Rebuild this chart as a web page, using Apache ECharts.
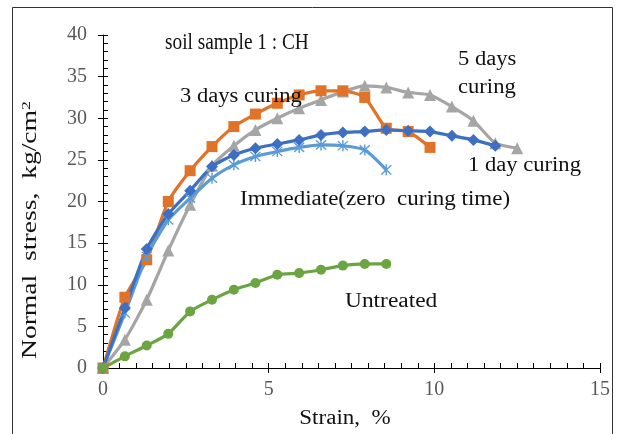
<!DOCTYPE html>
<html>
<head>
<meta charset="utf-8">
<script src="https://cdn.jsdelivr.net/npm/echarts@6/dist/echarts.min.js"></script>
<style>html,body{margin:0;padding:0;background:#fff}#c{width:618px;height:434px}</style>
</head>
<body>
<div id="c"></div>
<script>
// Strain values (%) shared by all series
const strain = [0, 0.66, 1.32, 1.97, 2.63, 3.29, 3.95, 4.6, 5.26, 5.92, 6.58, 7.24, 7.9, 8.55, 9.21, 9.87, 10.53, 11.18, 11.84, 12.5];
// Normal stress (kg/cm2)
const untreated = [0, 1.4, 2.7, 4.1, 6.8, 8.2, 9.4, 10.2, 11.2, 11.4, 11.8, 12.3, 12.5, 12.5];
const immediate = [0, 6.6, 13.4, 17.8, 20.4, 22.8, 24.4, 25.4, 26.0, 26.5, 26.8, 26.7, 26.2, 23.8];
const day1 = [0, 7.2, 14.3, 18.5, 21.3, 24.2, 25.6, 26.4, 26.9, 27.4, 28.0, 28.3, 28.4, 28.6, 28.5, 28.4, 27.9, 27.4, 26.7];
const day3 = [0, 8.5, 13.0, 20.0, 23.7, 26.6, 29.0, 30.5, 31.8, 32.8, 33.3, 33.3, 32.5, 28.8, 28.4, 26.5];
const day5 = [0, 3.4, 8.2, 14.1, 19.6, 24.3, 26.7, 28.6, 30.0, 31.2, 32.2, 33.2, 33.9, 33.7, 33.1, 32.8, 31.4, 29.7, 27.0, 26.4];
const xTicks = [0, 5, 10, 15];
const yTicks = [0, 5, 10, 15, 20, 25, 30, 35, 40];

const pairs = ys => ys.map((y, i) => [strain[i], y]);
const serif = 'Liberation Serif';
const asterisk = 'path://M4.4,0L5.6,0L5.6,10L4.4,10Z M0.4,1.2L1.2,0.4L9.6,8.8L8.8,9.6Z M8.8,0.4L9.6,1.2L1.2,9.6L0.4,8.8Z';

function mkSeries(name, ys, color, symbol, size) {
  return {
    name, type: 'line', data: pairs(ys), smooth: 0.2,
    symbol, symbolSize: size, showSymbol: true,
    lineStyle: { color, width: 3.2 },
    itemStyle: { color, borderWidth: 0 },
    xAxisIndex: 0, yAxisIndex: 0, animation: false
  };
}

const chart = echarts.init(document.getElementById('c'), null, { renderer: 'canvas' });
const axisCommon = {
  type: 'value',
  axisLine: { show: true, lineStyle: { color: '#000', width: 1 } },
  splitLine: { show: false }
};
const txt = (text, x, y, size, sx, align) => ({
  type: 'text', x, y, scaleX: sx, z: 100,
  style: { text, font: size + 'px "' + serif + '"', fill: '#111', textVerticalAlign: 'middle', textAlign: align || 'left' }
});

chart.setOption({
  animation: false,
  grid: { left: 103, right: 18, top: 35, bottom: 66 },
  xAxis: [
    Object.assign({}, axisCommon, {
      min: xTicks[0], max: xTicks[xTicks.length - 1], interval: 5, position: 'bottom',
      axisTick: { show: true, inside: true, length: 5, lineStyle: { color: '#000' } },
      minorTick: { show: true, splitNumber: 10, length: 5, lineStyle: { color: '#000' } },
      axisLabel: { color: '#595959', fontFamily: serif, fontSize: 20, margin: 12 }
    }),
    Object.assign({}, axisCommon, {
      min: xTicks[0], max: xTicks[xTicks.length - 1], interval: 5, position: 'bottom',
      axisLine: { show: false },
      axisTick: { show: true, inside: false, length: 5, lineStyle: { color: '#000' } },
      axisLabel: { show: false }
    })
  ],
  yAxis: [
    Object.assign({}, axisCommon, {
      min: yTicks[0], max: yTicks[yTicks.length - 1], interval: 5, position: 'left',
      axisTick: { show: true, inside: true, length: 5, lineStyle: { color: '#000' } },
      minorTick: { show: true, splitNumber: 5, length: 5, lineStyle: { color: '#000' } },
      axisLabel: { color: '#595959', fontFamily: serif, fontSize: 20, margin: 16 }
    }),
    Object.assign({}, axisCommon, {
      min: yTicks[0], max: yTicks[yTicks.length - 1], interval: 5, position: 'left',
      axisLine: { show: false },
      axisTick: { show: true, inside: false, length: 5, lineStyle: { color: '#000' } },
      axisLabel: { show: false }
    })
  ],
  series: [
    mkSeries('5 days curing', day5, '#A5A5A5', 'triangle', 12),
    mkSeries('3 days curing', day3, '#E07328', 'rect', 11),
    mkSeries('Immediate', immediate, '#5A9BD5', asterisk, 11),
    mkSeries('1 day curing', day1, '#3D6FC2', 'diamond', 12),
    mkSeries('Untreated', untreated, '#6AA541', 'circle', 10)
  ],
  graphic: [
    { type: 'rect', shape: { x: 12.5, y: 7.5, width: 600, height: 440 }, style: { fill: 'none', stroke: '#333', lineWidth: 1 }, z: 0, silent: true },
    txt('soil sample 1 : CH', 165, 43, 23, 0.84),
    txt('3 days curing', 180, 97, 20, 1.13),
    txt('5 days', 458, 60, 20, 1.13),
    txt('curing', 458, 88, 20, 1.13),
    txt('1 day curing', 468, 166, 20, 1.13),
    txt('Immediate(zero  curing time)', 240, 200, 20, 1.15),
    txt('Untreated', 345, 302, 20, 1.17),
    txt('Strain,  %', 345, 419, 20, 1.15, 'center'),
    {
      type: 'text', x: 31, y: 230, rotation: Math.PI / 2, scaleX: 1.38, z: 100,
      style: {
        text: '{a|Normal  stress,  kg/cm}{s|2}',
        textAlign: 'center', textVerticalAlign: 'middle',
        rich: {
          a: { font: '20px "' + serif + '"', fill: '#111' },
          s: { font: '13px "' + serif + '"', fill: '#111', verticalAlign: 'top', padding: [0, 0, 8, 0] }
        }
      }
    }
  ]
});
</script>
</body>
</html>
